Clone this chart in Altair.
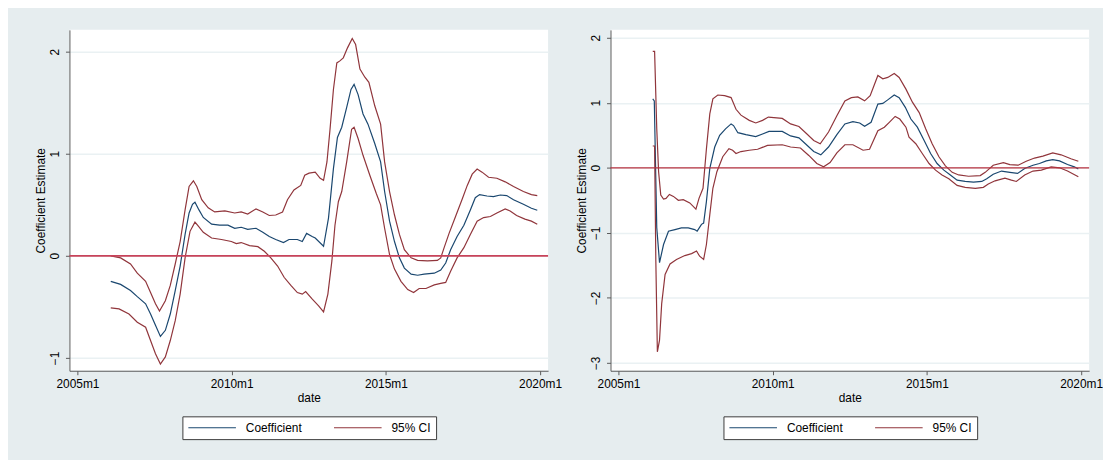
import altair as alt
import pandas as pd

# ---------------- data ----------------
SERIES = ["Coefficient", "95% CI"]
COLORS = ["#1A476F", "#90353B"]
X_TICKS = [2005, 2010, 2015, 2020]
LEFT_Y_TICKS = [-1, 0, 1, 2]
RIGHT_Y_TICKS = [-3, -2, -1, 0, 1, 2]

# left panel (decimal year, estimate)
left_coef = [
    (2006.08, -0.25), (2006.40, -0.28), (2006.72, -0.34), (2006.94, -0.40), (2007.21, -0.47),
    (2007.37, -0.57), (2007.53, -0.68), (2007.69, -0.79), (2007.85, -0.73), (2008.01, -0.57),
    (2008.17, -0.34), (2008.33, -0.10), (2008.49, 0.21), (2008.62, 0.42), (2008.73, 0.505),
    (2008.81, 0.525), (2008.94, 0.45), (2009.08, 0.376), (2009.35, 0.31), (2009.61, 0.30),
    (2009.88, 0.30), (2010.10, 0.27), (2010.31, 0.28), (2010.52, 0.26), (2010.79, 0.27),
    (2011.01, 0.23), (2011.22, 0.19), (2011.43, 0.16), (2011.68, 0.13), (2011.86, 0.16),
    (2012.13, 0.16), (2012.29, 0.14), (2012.43, 0.22), (2012.61, 0.19), (2012.71, 0.175),
    (2012.98, 0.094), (2013.14, 0.37), (2013.30, 0.855), (2013.43, 1.16), (2013.57, 1.26),
    (2013.73, 1.455), (2013.87, 1.63), (2013.97, 1.68), (2014.10, 1.58), (2014.26, 1.39),
    (2014.42, 1.29), (2014.64, 1.10), (2014.83, 0.92), (2014.96, 0.63), (2015.12, 0.34),
    (2015.28, 0.14), (2015.44, -0.02), (2015.60, -0.12), (2015.82, -0.18), (2016.03, -0.19),
    (2016.24, -0.18), (2016.57, -0.17), (2016.78, -0.14), (2016.94, -0.07), (2017.10, 0.06),
    (2017.31, 0.19), (2017.53, 0.30), (2017.74, 0.45), (2017.90, 0.57), (2018.04, 0.60),
    (2018.28, 0.586), (2018.49, 0.58), (2018.71, 0.596), (2018.92, 0.59), (2019.14, 0.55),
    (2019.46, 0.505), (2019.72, 0.466), (2019.91, 0.447),
]
left_upper = [
    (2006.08, 0.0), (2006.40, -0.02), (2006.72, -0.08), (2006.94, -0.17), (2007.21, -0.25),
    (2007.37, -0.36), (2007.53, -0.47), (2007.66, -0.54), (2007.85, -0.44), (2008.01, -0.29),
    (2008.17, -0.08), (2008.33, 0.14), (2008.49, 0.45), (2008.62, 0.68), (2008.76, 0.735),
    (2008.87, 0.68), (2009.03, 0.55), (2009.24, 0.47), (2009.45, 0.43), (2009.78, 0.44),
    (2010.10, 0.42), (2010.31, 0.43), (2010.52, 0.41), (2010.79, 0.46), (2011.01, 0.43),
    (2011.22, 0.395), (2011.43, 0.40), (2011.65, 0.43), (2011.81, 0.55), (2012.02, 0.645),
    (2012.24, 0.69), (2012.37, 0.79), (2012.51, 0.81), (2012.71, 0.82), (2012.87, 0.76),
    (2012.98, 0.74), (2013.09, 0.92), (2013.19, 1.24), (2013.30, 1.63), (2013.41, 1.89),
    (2013.51, 1.91), (2013.62, 1.94), (2013.76, 2.04), (2013.91, 2.13), (2014.02, 2.07),
    (2014.16, 1.83), (2014.32, 1.75), (2014.45, 1.70), (2014.64, 1.47), (2014.83, 1.29),
    (2014.96, 0.92), (2015.12, 0.63), (2015.28, 0.40), (2015.44, 0.21), (2015.60, 0.06),
    (2015.82, -0.02), (2016.03, -0.045), (2016.35, -0.05), (2016.67, -0.045), (2016.78, -0.02),
    (2016.89, 0.08), (2017.05, 0.22), (2017.26, 0.385), (2017.48, 0.56), (2017.64, 0.69),
    (2017.80, 0.80), (2017.96, 0.85), (2018.12, 0.82), (2018.33, 0.77), (2018.60, 0.76),
    (2018.87, 0.725), (2019.14, 0.68), (2019.46, 0.63), (2019.72, 0.60), (2019.91, 0.59),
]
left_lower = [
    (2006.08, -0.51), (2006.35, -0.52), (2006.67, -0.57), (2006.94, -0.65), (2007.21, -0.70),
    (2007.37, -0.83), (2007.53, -0.96), (2007.69, -1.06), (2007.85, -0.99), (2008.01, -0.83),
    (2008.17, -0.635), (2008.33, -0.375), (2008.49, -0.02), (2008.65, 0.24), (2008.81, 0.33),
    (2008.92, 0.29), (2009.08, 0.23), (2009.35, 0.175), (2009.67, 0.16), (2009.99, 0.14),
    (2010.15, 0.12), (2010.31, 0.13), (2010.58, 0.10), (2010.85, 0.09), (2011.06, 0.045),
    (2011.27, -0.02), (2011.49, -0.10), (2011.70, -0.21), (2011.92, -0.29), (2012.13, -0.36),
    (2012.29, -0.375), (2012.40, -0.35), (2012.60, -0.42), (2012.82, -0.49), (2012.98, -0.55),
    (2013.12, -0.375), (2013.25, -0.05), (2013.35, 0.30), (2013.46, 0.53), (2013.57, 0.63),
    (2013.73, 0.92), (2013.89, 1.24), (2013.97, 1.26), (2014.10, 1.15), (2014.26, 0.985),
    (2014.48, 0.79), (2014.69, 0.61), (2014.83, 0.50), (2014.96, 0.27), (2015.12, 0.013),
    (2015.28, -0.13), (2015.49, -0.25), (2015.71, -0.33), (2015.90, -0.36), (2016.08, -0.32),
    (2016.30, -0.32), (2016.57, -0.285), (2016.78, -0.27), (2016.94, -0.26), (2017.10, -0.15),
    (2017.31, -0.02), (2017.53, 0.08), (2017.74, 0.21), (2017.96, 0.34), (2018.17, 0.375),
    (2018.39, 0.385), (2018.60, 0.42), (2018.87, 0.46), (2019.03, 0.44), (2019.24, 0.395),
    (2019.51, 0.36), (2019.72, 0.34), (2019.91, 0.31),
]

# right panel (decimal year, estimate)
right_coef = [
    (2006.11, 1.06), (2006.16, 1.03), (2006.24, -0.92), (2006.33, -1.46), (2006.46, -1.18),
    (2006.62, -0.975), (2006.83, -0.95), (2007.04, -0.925), (2007.26, -0.925), (2007.47, -0.95),
    (2007.55, -0.975), (2007.69, -0.87), (2007.76, -0.85), (2007.85, -0.52), (2007.96, -0.01),
    (2008.12, 0.32), (2008.28, 0.50), (2008.47, 0.60), (2008.65, 0.675), (2008.73, 0.65),
    (2008.87, 0.54), (2009.13, 0.51), (2009.45, 0.48), (2009.67, 0.52), (2009.88, 0.56),
    (2010.31, 0.56), (2010.58, 0.49), (2010.85, 0.46), (2011.06, 0.37), (2011.33, 0.25),
    (2011.56, 0.20), (2011.81, 0.32), (2012.08, 0.51), (2012.34, 0.675), (2012.60, 0.71),
    (2012.82, 0.69), (2012.98, 0.64), (2013.19, 0.70), (2013.41, 0.98), (2013.57, 0.99),
    (2013.73, 1.045), (2013.94, 1.12), (2014.10, 1.08), (2014.30, 0.93), (2014.48, 0.75),
    (2014.69, 0.625), (2014.91, 0.42), (2015.12, 0.22), (2015.33, 0.066), (2015.55, -0.036),
    (2015.76, -0.11), (2015.98, -0.19), (2016.24, -0.21), (2016.51, -0.22), (2016.78, -0.21),
    (2016.94, -0.17), (2017.15, -0.10), (2017.42, -0.05), (2017.69, -0.07), (2017.94, -0.086),
    (2018.17, -0.01), (2018.44, 0.04), (2018.65, 0.066), (2018.87, 0.107), (2019.08, 0.127),
    (2019.30, 0.107), (2019.56, 0.05), (2019.78, 0.015), (2019.91, -0.02),
]
right_upper = [
    (2006.11, 1.79), (2006.17, 1.79), (2006.24, 0.60), (2006.30, -0.06), (2006.37, -0.42),
    (2006.46, -0.48), (2006.54, -0.47), (2006.65, -0.41), (2006.78, -0.44), (2006.94, -0.50),
    (2007.10, -0.49), (2007.31, -0.54), (2007.51, -0.635), (2007.61, -0.47), (2007.74, -0.315),
    (2007.85, 0.29), (2007.96, 0.83), (2008.06, 1.06), (2008.22, 1.12), (2008.44, 1.11),
    (2008.65, 1.08), (2008.81, 0.90), (2008.97, 0.81), (2009.24, 0.73), (2009.45, 0.69),
    (2009.67, 0.73), (2009.86, 0.78), (2010.31, 0.76), (2010.58, 0.675), (2010.85, 0.635),
    (2011.11, 0.52), (2011.33, 0.42), (2011.54, 0.37), (2011.81, 0.55), (2012.08, 0.80),
    (2012.34, 1.03), (2012.55, 1.08), (2012.76, 1.09), (2012.98, 1.03), (2013.16, 1.11),
    (2013.41, 1.42), (2013.57, 1.37), (2013.73, 1.39), (2013.94, 1.45), (2014.10, 1.39),
    (2014.32, 1.21), (2014.53, 1.01), (2014.75, 0.85), (2014.96, 0.60), (2015.17, 0.37),
    (2015.39, 0.17), (2015.60, 0.03), (2015.82, -0.07), (2016.03, -0.11), (2016.35, -0.13),
    (2016.73, -0.12), (2016.89, -0.07), (2017.15, 0.04), (2017.48, 0.08), (2017.69, 0.05),
    (2017.96, 0.04), (2018.22, 0.10), (2018.49, 0.15), (2018.76, 0.18), (2019.08, 0.23),
    (2019.35, 0.20), (2019.67, 0.14), (2019.91, 0.10),
]
right_lower = [
    (2006.11, 0.335), (2006.17, 0.335), (2006.21, -1.43), (2006.26, -2.83), (2006.33, -2.65),
    (2006.40, -2.09), (2006.51, -1.64), (2006.67, -1.48), (2006.88, -1.41), (2007.15, -1.35),
    (2007.37, -1.32), (2007.53, -1.28), (2007.63, -1.36), (2007.76, -1.41), (2007.85, -1.18),
    (2007.96, -0.72), (2008.06, -0.315), (2008.19, -0.06), (2008.38, 0.17), (2008.58, 0.295),
    (2008.70, 0.27), (2008.81, 0.22), (2008.97, 0.25), (2009.24, 0.27), (2009.51, 0.285),
    (2009.83, 0.345), (2010.31, 0.355), (2010.58, 0.32), (2010.90, 0.305), (2011.17, 0.19),
    (2011.43, 0.066), (2011.65, 0.015), (2011.86, 0.08), (2012.08, 0.23), (2012.34, 0.355),
    (2012.60, 0.355), (2012.93, 0.27), (2013.14, 0.285), (2013.41, 0.57), (2013.62, 0.625),
    (2013.78, 0.70), (2013.97, 0.79), (2014.12, 0.75), (2014.32, 0.625), (2014.42, 0.47),
    (2014.64, 0.37), (2014.85, 0.22), (2015.07, 0.066), (2015.28, -0.036), (2015.49, -0.11),
    (2015.71, -0.17), (2015.98, -0.27), (2016.24, -0.30), (2016.57, -0.315), (2016.83, -0.30),
    (2016.99, -0.25), (2017.21, -0.20), (2017.53, -0.16), (2017.74, -0.19), (2017.90, -0.21),
    (2018.17, -0.11), (2018.44, -0.05), (2018.71, -0.036), (2019.03, 0.015), (2019.30, 0.0),
    (2019.56, -0.05), (2019.91, -0.137),
]

FONT = "Liberation Sans"
BG = "#E6EDEF"
GRID = "#EAF1F3"
AXIS = "#5A5A5A"


def long_frame(coef, upper, lower):
    rows = []
    for name, series, pts in (("coef", "Coefficient", coef),
                              ("upper", "95% CI", upper),
                              ("lower", "95% CI", lower)):
        for yr, v in pts:
            rows.append({"year": yr, "value": v, "series": series, "line": name})
    return pd.DataFrame(rows)


def panel(coef, upper, lower, ydomain, yticks, zero_color, zero_width):
    df = long_frame(coef, upper, lower)
    x = alt.X(
        "year:Q",
        scale=alt.Scale(domain=[2004.74, 2020.26], nice=False, zero=False),
        axis=alt.Axis(values=X_TICKS, labelExpr="datum.value + 'm1'", title="date",
                      grid=False, tickSize=4, labelPadding=4, titlePadding=3),
    )
    y = alt.Y(
        "value:Q",
        scale=alt.Scale(domain=ydomain, nice=False, zero=False),
        axis=alt.Axis(values=yticks, format="d", title="Coefficient Estimate", grid=True,
                      gridColor=GRID, gridWidth=1.5, tickSize=4,
                      labelAngle=270, labelAlign="center", labelBaseline="bottom",
                      labelPadding=4, titlePadding=1),
    )
    lines = alt.Chart(df).mark_line(strokeWidth=1.2).encode(
        x=x,
        y=y,
        color=alt.Color(
            "series:N",
            scale=alt.Scale(domain=SERIES, range=COLORS),
            sort=SERIES,
            legend=alt.Legend(
                orient="none", legendX=114, legendY=390, direction="horizontal",
                title=None, symbolType="stroke", symbolSize=2304, clipHeight=13,
                symbolStrokeWidth=1.2, labelOffset=9, columnPadding=31,
                padding=5, strokeColor="#3C3C3C", fillColor="white",
                labelFont=FONT, labelFontSize=12, labelColor="#000000",
            ),
        ),
        detail="line:N",
    )
    zero = alt.Chart(pd.DataFrame({"z": [0]})).mark_rule(
        color=zero_color, strokeWidth=zero_width
    ).encode(y="z:Q")
    return alt.layer(lines, zero).properties(width=483, height=344)


left = panel(left_coef, left_upper, left_lower, [-1.126, 2.214], LEFT_Y_TICKS,
             "#C8435A", 1.8)
right = panel(right_coef, right_upper, right_lower, [-3.122, 2.122], RIGHT_Y_TICKS,
              "#B8323F", 1.3)

chart = (
    alt.hconcat(left, right, spacing=63, bounds="flush")
    .resolve_scale(color="independent")
    .resolve_legend(color="independent")
    .properties(padding={"left": 26, "top": 20, "right": 0, "bottom": 18})
    .configure(background=BG)
    .configure_view(fill="white", stroke=None)
    .configure_axis(
        domainColor=AXIS, tickColor=AXIS, domainWidth=1, tickWidth=1,
        labelFont=FONT, labelFontSize=12, labelColor="#000000",
        titleFont=FONT, titleFontSize=12, titleFontWeight="normal", titleColor="#000000",
    )
)

chart.save("out.html", embed_options={"renderer": "svg", "actions": False})
